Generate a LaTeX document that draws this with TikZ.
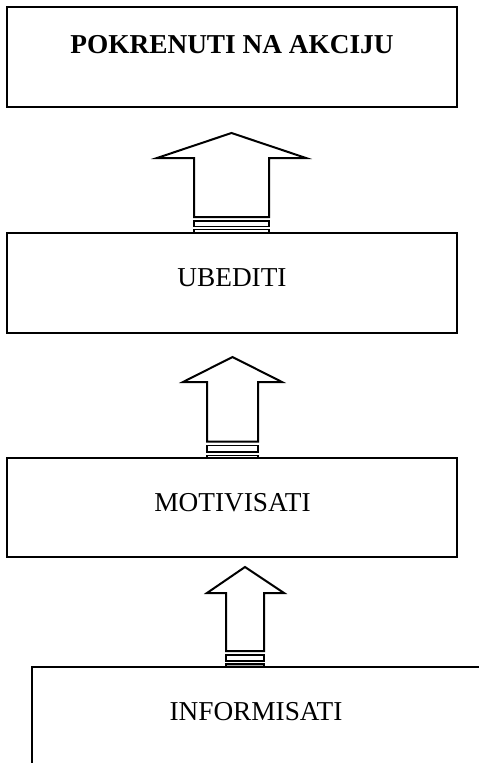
\documentclass[tikz,border=0pt]{standalone}
\usepackage{fontspec}
\setmainfont{Liberation Serif}
\begin{document}
\begin{tikzpicture}[x=1pt,y=-1pt,
  box/.style={draw=black,line width=2pt,rectangle,inner sep=0pt},
  lbl/.style={anchor=base,inner sep=0pt,font=\fontsize{27.3}{32}\selectfont},
  blockarrow/.style={draw=black,line width=2pt,fill=white,line join=miter},
  stripe/.style={draw=black,line width=1.6pt,fill=white}]
\useasboundingbox (0,0) rectangle (479,763);
% arrow 1 (b2 -> b1)
\draw[blockarrow] (194,217) -- (194,158) -- (157,158) -- (231.5,133) -- (306,158) -- (269,158) -- (269,217) -- cycle;
\draw[stripe] (194,221) rectangle (269,226.5);
\draw[stripe] (194,229.5) rectangle (269,232.5);
% arrow 2 (b3 -> b2)
\draw[blockarrow] (207,441.5) -- (207,382) -- (183,382) -- (232.5,357) -- (282,382) -- (258,382) -- (258,441.5) -- cycle;
\draw[stripe] (207,445.5) rectangle (258,452);
\draw[stripe] (207,455.5) rectangle (258,458);
% arrow 3 (b4 -> b3)
\draw[blockarrow] (226,651) -- (226,593) -- (207,593) -- (245,567) -- (284,593) -- (264,593) -- (264,651) -- cycle;
\draw[stripe] (226,655) rectangle (264,661);
\draw[stripe,fill=gray!70] (226,664) rectangle (264,667);
% boxes
\node[box,minimum width=450pt,minimum height=100pt] (b1) at (232,57) {};
\node[box,minimum width=450pt,minimum height=100pt] (b2) at (232,282.5) {};
\node[box,minimum width=450pt,minimum height=99pt] (b3) at (232,507.5) {};
\node[box,minimum width=460pt,minimum height=120pt] (b4) at (262,727) {};
% labels
\node[lbl,font=\fontsize{27.3}{32}\selectfont\bfseries] (t1) at (232,53.3) {POKRENUTI NA AKCIJU};
\node[lbl] (t2) at (232,286.7) {UBEDITI};
\node[lbl] (t3) at (232.5,511.7) {MOTIVISATI};
\node[lbl] (t4) at (256,720.7) {INFORMISATI};
\end{tikzpicture}
\end{document}
